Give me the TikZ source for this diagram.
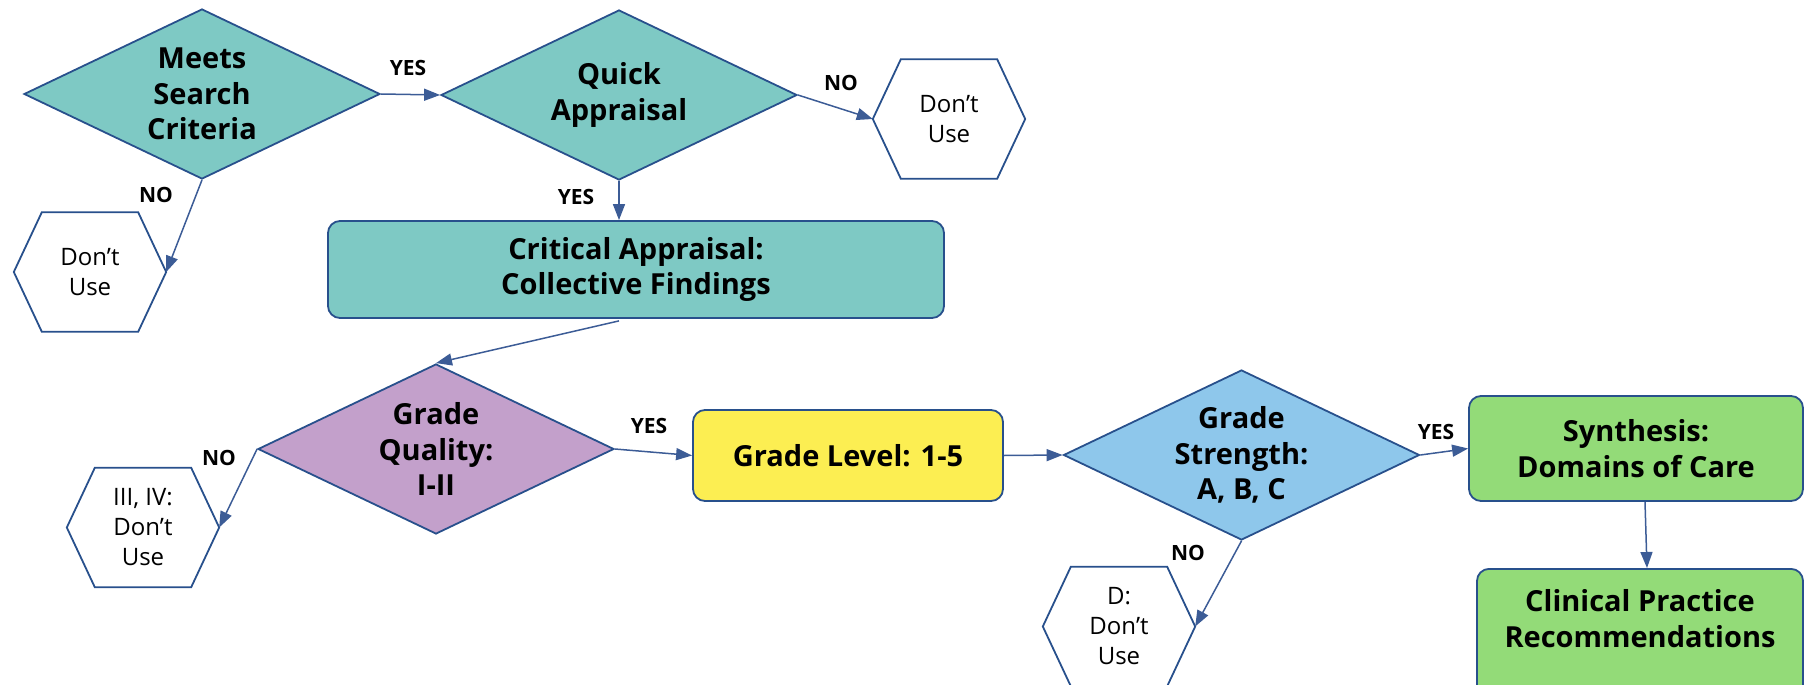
\documentclass[tikz,border=0pt]{standalone}
\usepackage{fontspec}
\setmainfont{Open Sans}
\usetikzlibrary{shapes.geometric,arrows.meta,calc}
\definecolor{tealf}{RGB}{126,201,196}
\definecolor{purpf}{RGB}{195,160,203}
\definecolor{yelf}{RGB}{252,238,82}
\definecolor{bluf}{RGB}{142,199,235}
\definecolor{grnf}{RGB}{147,219,120}
\definecolor{edgec}{RGB}{40,80,140}
\definecolor{arrc}{RGB}{60,92,150}
\newcommand\hexout[1]{\draw[edgec, line width=1.8pt] (#1.west) -- ($(#1.north west)+(28,0)$) -- ($(#1.north east)+(-28,0)$) -- (#1.east) -- ($(#1.south east)+(-28,0)$) -- ($(#1.south west)+(28,0)$) -- cycle;}
\begin{document}
\begin{tikzpicture}[x=1pt,y=-1pt,
  dia/.style={diamond, draw=edgec, line width=1.8pt, aspect=2.1, minimum width=356pt, minimum height=170pt, inner sep=0pt, align=center, font=\bfseries\fontsize{29}{35.5}\selectfont},
  boxn/.style={rectangle, rounded corners=12pt, draw=edgec, line width=1.8pt, inner sep=0pt, align=center, font=\bfseries\fontsize{29}{35.5}\selectfont},
  hexn/.style={rectangle, minimum width=152pt, minimum height=119pt, inner sep=0pt, align=center, font=\fontsize{24}{30}\selectfont},
  lab/.style={font=\bfseries\fontsize{21}{25}\selectfont, inner sep=0pt},
  conn/.style={draw=arrc, line width=1.5pt, -{Triangle[length=16pt,width=12pt]}}]
\useasboundingbox (0,0) rectangle (1808,685);
\clip (0,0) rectangle (1808,685);
% nodes
\node[dia, fill=tealf] (d1) at (202,94) {Meets\\Search\\Criteria};
\node[dia, fill=tealf] (d2) at (619,95) {Quick\\Appraisal};
\node[hexn] (h1) at (949,119) {Don’t\\Use};
\hexout{h1}
\node[hexn] (h0) at (90,272) {Don’t\\Use};
\hexout{h0}
\node[boxn, fill=tealf, minimum width=616pt, minimum height=97pt] (box) at (636,269.5) {Critical Appraisal:\\Collective Findings};
\node[dia, fill=purpf] (d3) at (436,449) {Grade\\Quality:\\I-II};
\node[hexn] (h3) at (143,527.5) {III, IV:\\Don’t\\Use};
\hexout{h3}
\node[boxn, fill=yelf, minimum width=310pt, minimum height=91pt] (yb) at (848,455.5) {Grade Level: 1-5};
\node[dia, fill=bluf] (d4) at (1241.5,455) {Grade\\Strength:\\A, B, C};
\node[boxn, fill=grnf, minimum width=334pt, minimum height=105pt] (g1) at (1636,448.5) {Synthesis:\\Domains of Care};
\node[boxn, fill=grnf, minimum width=326pt, minimum height=150pt, anchor=north] (g2) at (1640,568) {};
\node[font=\bfseries\fontsize{29}{35.5}\selectfont, align=center, inner sep=0pt] (g2t) at (1640,618.5) {Clinical Practice\\Recommendations};
\node[hexn] (h4) at (1119,626.5) {D:\\Don’t\\Use};
\hexout{h4}
% connectors
\draw[conn] (d1.east) -- (d2.west);
\draw[conn] (d2.east) -- (h1.west);
\draw[conn] (d1.south) -- (h0.east);
\draw[conn] (d2.south) -- (d2.south |- box.north);
\draw[conn] ($(box.south)+(-17,2)$) -- (d3.north);
\draw[conn] (d3.west) -- (h3.east);
\draw[conn] (d3.east) -- (yb.west);
\draw[conn] (yb.east) -- (d4.west);
\draw[conn] (d4.east) -- (g1.west);
\draw[conn] (d4.south) -- (h4.east);
\draw[conn] ($(g1.south)+(9,0)$) -- ($(g2.north)+(7,0)$);
% labels
\node[lab] (l1) at (408,68) {YES};
\node[lab] (l2) at (841,83) {NO};
\node[lab] (l3) at (156,195) {NO};
\node[lab] (l4) at (576,197) {YES};
\node[lab] (l5) at (219,458) {NO};
\node[lab] (l6) at (649,426) {YES};
\node[lab] (l7) at (1436,432) {YES};
\node[lab] (l8) at (1188,553) {NO};
\end{tikzpicture}
\end{document}
